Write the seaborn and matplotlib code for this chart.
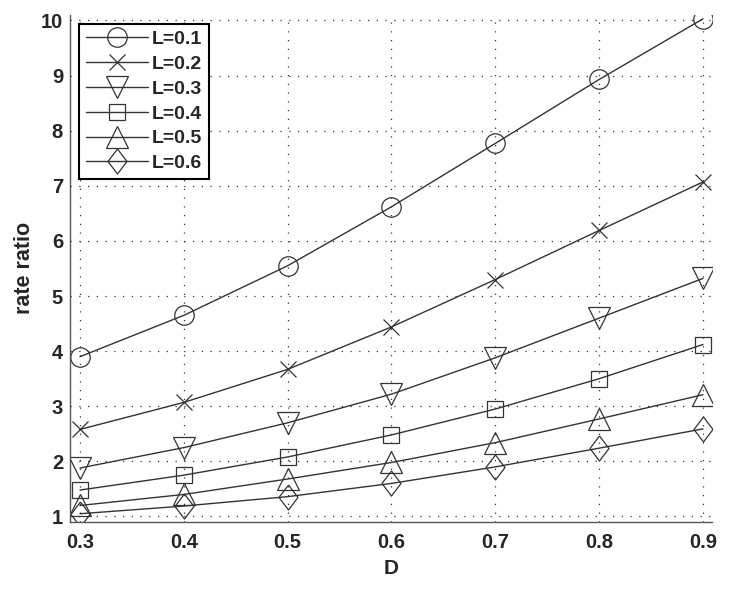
import numpy as np
import pandas as pd
import seaborn as sns
import matplotlib.pyplot as plt

# values
D = [0.3, 0.4, 0.5, 0.6, 0.7, 0.8, 0.9]
series_labels = ['L=0.1', 'L=0.2', 'L=0.3', 'L=0.4', 'L=0.5', 'L=0.6']
rate_L01 = [3.90, 4.65, 5.55, 6.62, 7.77, 8.93, 10.03]
rate_L02 = [2.58, 3.07, 3.67, 4.44, 5.30, 6.19, 7.07]
rate_L03 = [1.88, 2.25, 2.70, 3.22, 3.88, 4.60, 5.32]
rate_L04 = [1.48, 1.75, 2.08, 2.48, 2.95, 3.50, 4.12]
rate_L05 = [1.20, 1.40, 1.68, 1.98, 2.34, 2.77, 3.21]
rate_L06 = [1.05, 1.19, 1.36, 1.60, 1.90, 2.24, 2.59]

df = pd.DataFrame({
    'D': D * 6,
    'rate ratio': rate_L01 + rate_L02 + rate_L03 + rate_L04 + rate_L05 + rate_L06,
    'L': [lab for lab in series_labels for _ in D],
})

diamond = [(0, 1), (0.76, 0), (0, -1), (-0.76, 0), (0, 1)]
marker_list = ['o', 'x', 'v', 's', '^', diamond]
size_list = [14, 12, 16, 11, 16, 18]
ink = '#333333'

sns.set_style('white')
plt.rcParams['font.family'] = ['Liberation Sans', 'DejaVu Sans']
plt.rcParams['font.weight'] = 'bold'

fig = plt.figure(figsize=(7.38, 5.92), dpi=100)
ax = fig.add_axes([0.0949, 0.1188, 0.8699, 0.8559])

for lab, mk, ms in zip(series_labels, marker_list, size_list):
    sub = df[df['L'] == lab]
    sns.lineplot(data=sub, x='D', y='rate ratio', ax=ax, label=lab,
                 color=ink, linewidth=1.0, marker=mk, markersize=ms,
                 mfc='none', mec=ink, mew=0.9)

ax.set_xlim(0.2904, 0.9087)
ax.set_ylim(0.906, 10.10)
ax.set_xticks(D)
ax.set_xticklabels(['0.3', '0.4', '0.5', '0.6', '0.7', '0.8', '0.9'])
ax.set_yticks(range(1, 11))

ax.grid(True, linestyle=(0, (1, 6)), color='#333333', linewidth=0.9)
ax.tick_params(direction='in', length=4, width=0.8, color='#555555',
               labelsize=14.5, pad=5)
ax.tick_params(axis='x', pad=8)
for side in ['top', 'right']:
    ax.spines[side].set_visible(False)
for side in ['left', 'bottom']:
    ax.spines[side].set_color('#555555')
    ax.spines[side].set_linewidth(1.0)

ax.set_xlabel('D', fontsize=15, fontweight='bold', labelpad=5)
ax.set_ylabel('rate ratio', fontsize=15.5, fontweight='bold', labelpad=4)

leg = ax.legend(loc='upper left', fontsize=14, frameon=True, fancybox=False,
                edgecolor='black', framealpha=1, borderaxespad=0.45,
                handlelength=3.2, handletextpad=0.2, labelspacing=0.37,
                borderpad=0.35)
leg.get_frame().set_linewidth(1.5)

fig.savefig('out.png', dpi=100)
